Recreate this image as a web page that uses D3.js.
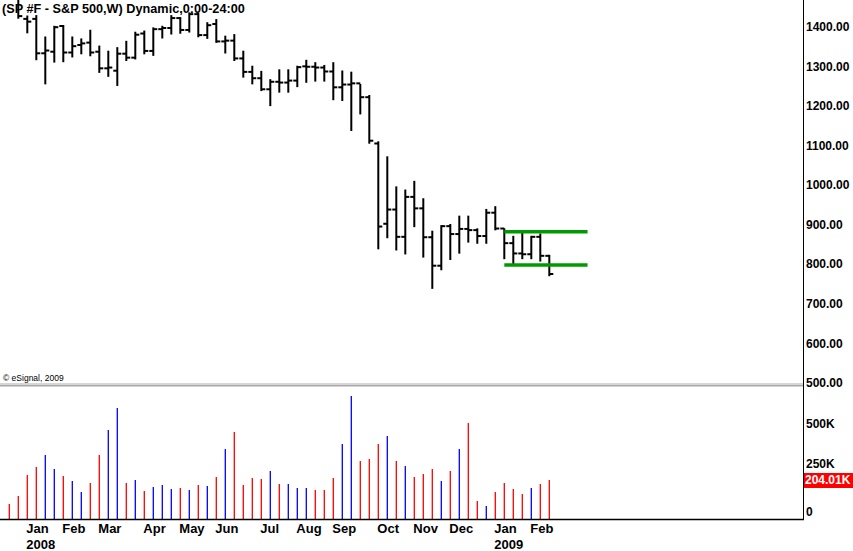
<!DOCTYPE html>
<html>
<head>
<meta charset="utf-8">
<script src="https://cdn.jsdelivr.net/npm/d3@7"></script>
<style>
  html, body { margin: 0; padding: 0; background: #fff; }
  svg { display: block; }
  text { font-family: "Liberation Sans", Arial, sans-serif; }
</style>
</head>
<body>
<div id="chart"></div>
<script>
// ---------------- DATA ----------------
const title = "(SP #F - S&P 500,W) Dynamic,0:00-24:00";
const copyright = "\u00A9 eSignal, 2009";

// weekly bars, week starting Dec 24 2007 ... Feb 16 2009
const weeks = ["2007-12-24","2007-12-31","2008-01-07","2008-01-14","2008-01-22","2008-01-28","2008-02-04","2008-02-11","2008-02-19","2008-02-25",
  "2008-03-03","2008-03-10","2008-03-17","2008-03-24","2008-03-31","2008-04-07","2008-04-14","2008-04-21","2008-04-28","2008-05-05",
  "2008-05-12","2008-05-19","2008-05-27","2008-06-02","2008-06-09","2008-06-16","2008-06-23","2008-06-30","2008-07-07","2008-07-14",
  "2008-07-21","2008-07-28","2008-08-04","2008-08-11","2008-08-18","2008-08-25","2008-09-01","2008-09-08","2008-09-15","2008-09-22",
  "2008-09-29","2008-10-06","2008-10-13","2008-10-20","2008-10-27","2008-11-03","2008-11-10","2008-11-17","2008-11-24","2008-12-01",
  "2008-12-08","2008-12-15","2008-12-22","2008-12-29","2009-01-05","2009-01-12","2009-01-20","2009-01-26","2009-02-02","2009-02-09","2009-02-16"];

const openP  = [1485,1480,1418,1418,1331,1335,1400,1333,1352,1358, 1335,1293,1287,1330,1320,1381,1337,1392,1395,1420,
                1390,1430,1377,1405,1361,1363,1318,1284,1268,1240, 1259,1257,1262,1298,1297,1295,1285,1245,1252,1255,
                1220,1103,900,936,867,968,939,866,794,894, 874,887,884,869,928,888,851,825,823,867,819];
const highP  = [1500,1490,1424,1425,1371,1398,1400,1371,1366,1388, 1348,1335,1344,1360,1383,1386,1394,1398,1425,1420,
                1432,1432,1407,1415,1373,1377,1335,1297,1284,1263, 1288,1288,1297,1312,1306,1299,1306,1285,1282,1251,
                1223,1106,1068,992,984,1006,962,880,894,897, 918,918,886,935,942,886,867,876,867,873,819];
const lowP   = [1476,1421,1384,1316,1255,1310,1311,1323,1331,1326, 1284,1274,1251,1314,1318,1331,1327,1371,1381,1383,
                1386,1374,1370,1360,1333,1314,1272,1255,1238,1200, 1234,1234,1248,1259,1262,1262,1215,1213,1137,1179,
                1105,838,866,835,825,894,817,738,785,811, 827,855,852,852,886,813,798,813,813,807,770];
const closeP = [1488,1425,1411,1331,1338,1397,1333,1349,1356,1333, 1293,1295,1330,1320,1378,1337,1392,1395,1420,1390,
                1430,1377,1402,1361,1363,1318,1284,1268,1240,1259, 1257,1262,1296,1297,1295,1285,1245,1252,1255,1220,
                1110,893,936,867,968,939,866,794,894,874, 887,884,869,928,888,851,825,823,867,819,773];

// weekly volume (contracts) and direction (1 = up week / blue, 0 = down week / red)
const volume = [78000,120000,230000,272000,335000,261000,225000,199000,141000,188000,
                335000,465000,581000,188000,204000,146000,167000,178000,157000,162000,
                152000,178000,172000,220000,366000,455000,178000,214000,209000,251000,
                183000,183000,162000,162000,152000,152000,214000,392000,643000,303000,
                314000,392000,434000,303000,277000,220000,235000,261000,199000,251000,
                366000,502000,94000,68000,141000,188000,157000,131000,162000,183000,204010];
const volUp  = [0,0,0,0,1,1,0,1,1,0, 0,1,1,0,1,0,1,1,1,0, 1,0,1,0,1,0,0,0,0,1,
                0,1,1,1,0,0,0,1,1,0, 0,0,1,0,1,0,0,0,1,0, 1,0,0,1,0,0,0,0,1,0,0];

// price axis ticks
const priceTicks = [500,600,700,800,900,1000,1100,1200,1300,1400];
// volume axis ticks
const volTicks = [0,250000,500000];
const volTickLabels = ["0","250K","500K"];
const lastVolLabel = "204.01K";

// month labels (bar index of first week of month)
const monthNames = ["Jan","Feb","Mar","Apr","May","Jun","Jul","Aug","Sep","Oct","Nov","Dec","Jan","Feb"];
const monthIdx   = [2,6,10,15,19,23,28,32,36,41,45,49,54,58];
const yearNames  = ["2008","2009"];
const yearIdx    = [2,54];

// horizontal range lines (price level, start bar, end bar)
const rangeLevels = [880, 796];
const rangeStart = 55;
const rangeEnd = 64.25;

// ---------------- LAYOUT ----------------
const W = 853, H = 551;
const axisX = 803;
const priceTop = 0, priceBottom = 383;
const volTop = 388, volBottom = 519;

const svg = d3.select("#chart").append("svg").attr("width", W).attr("height", H);

const x = d3.scaleLinear().domain([0, 60]).range([9.3, 549.3]);
const yP = d3.scaleLinear().domain([500, 1400]).range([382, 26]);
const yV = d3.scaleLinear().domain([0, 500000]).range([volBottom, 423.4]);

svg.append("defs").append("clipPath").attr("id", "pclip")
  .append("rect").attr("x", 0).attr("y", priceTop).attr("width", axisX).attr("height", priceBottom - priceTop);

const bars = weeks.map((w, i) => ({ i, w, o: openP[i], h: highP[i], l: lowP[i], c: closeP[i], v: volume[i], up: volUp[i] }));

// ---- price bars ----
const pg = svg.append("g").attr("clip-path", "url(#pclip)");
const bg = pg.selectAll("g.bar").data(bars).join("g").attr("class", "bar");
bg.append("line")
  .attr("x1", d => x(d.i)).attr("x2", d => x(d.i))
  .attr("y1", d => yP(d.h) - 1).attr("y2", d => yP(d.l) + 1)
  .attr("stroke", "#000").attr("stroke-width", 2);
bg.append("line")
  .attr("x1", d => x(d.i) - 4).attr("x2", d => x(d.i))
  .attr("y1", d => yP(d.o)).attr("y2", d => yP(d.o))
  .attr("stroke", "#000").attr("stroke-width", 2);
bg.append("line")
  .attr("x1", d => x(d.i)).attr("x2", d => x(d.i) + 4)
  .attr("y1", d => yP(d.c)).attr("y2", d => yP(d.c))
  .attr("stroke", "#000").attr("stroke-width", 2);

// ---- range lines ----
pg.selectAll("line.range").data(rangeLevels).join("line").attr("class", "range")
  .attr("x1", x(rangeStart)).attr("x2", x(rangeEnd))
  .attr("y1", d => yP(d)).attr("y2", d => yP(d))
  .attr("stroke", "#009a00").attr("stroke-width", 3.5);

// ---- title ----
svg.append("text").attr("x", 2).attr("y", 13)
  .attr("font-size", "12.7px").attr("font-weight", "bold").attr("fill", "#000")
  .text(title);

// ---- copyright ----
svg.append("text").attr("x", 3).attr("y", 381)
  .attr("font-size", "8.5px").attr("fill", "#000")
  .text(copyright);

// ---- panel divider ----
svg.append("rect").attr("x", 0).attr("y", 383).attr("width", axisX).attr("height", 4).attr("fill", "#d6d6d6");
svg.append("line").attr("x1", 0).attr("x2", axisX).attr("y1", 385.5).attr("y2", 385.5).attr("stroke", "#a8a8a8").attr("stroke-width", 1);

// ---- price axis ----
const pAxis = d3.axisRight(yP).tickValues(priceTicks).tickFormat(d3.format(".2f")).tickSize(0).tickPadding(3);
const pa = svg.append("g").attr("transform", `translate(${axisX},0)`).call(pAxis);
pa.select(".domain").remove();
pa.selectAll("text").attr("font-size", "12px").attr("font-weight", "bold").attr("fill", "#000")
  .attr("font-family", "Liberation Sans, Arial, sans-serif").attr("dy", "0.38em");

// ---- volume bars ----
svg.append("g").selectAll("line").data(bars).join("line")
  .attr("x1", d => x(d.i)).attr("x2", d => x(d.i))
  .attr("y1", d => yV(d.v)).attr("y2", volBottom)
  .attr("stroke", d => d.up ? "#0000ff" : "#ff0000").attr("stroke-width", 1.3);

// ---- volume axis ----
const vAxis = d3.axisRight(yV).tickValues(volTicks).tickFormat((d, k) => volTickLabels[k]).tickSize(0).tickPadding(3);
const va = svg.append("g").attr("transform", `translate(${axisX},0)`).call(vAxis);
va.select(".domain").remove();
va.selectAll("text").attr("font-size", "12px").attr("font-weight", "bold").attr("fill", "#000")
  .attr("font-family", "Liberation Sans, Arial, sans-serif")
  .attr("dy", d => d === 0 ? "-0.32em" : (d === 250000 ? "-0.3em" : "0.38em"));

// last volume marker
const lastY = yV(volume[volume.length - 1]);
svg.append("rect").attr("x", axisX).attr("y", lastY - 7).attr("width", W - axisX).attr("height", 15).attr("fill", "#ff0000");
svg.append("text").attr("x", axisX + 2).attr("y", lastY + 4.5)
  .attr("font-size", "12px").attr("font-weight", "bold").attr("fill", "#fff").text(lastVolLabel);

// ---- frame lines ----
svg.append("line").attr("x1", axisX + 0.5).attr("x2", axisX + 0.5).attr("y1", 0).attr("y2", volBottom + 1)
  .attr("stroke", "#000").attr("stroke-width", 1);
svg.append("line").attr("x1", 0).attr("x2", axisX + 1).attr("y1", volBottom + 0.5).attr("y2", volBottom + 0.5)
  .attr("stroke", "#000").attr("stroke-width", 1.5);

// ---- month / year labels ----
svg.append("g").selectAll("text").data(monthNames).join("text")
  .attr("x", (d, k) => x(monthIdx[k]) - 1).attr("y", 533)
  .attr("font-size", "13px").attr("font-weight", "bold").attr("fill", "#000")
  .text(d => d);
svg.append("g").selectAll("text").data(yearNames).join("text")
  .attr("x", (d, k) => x(yearIdx[k]) - 1).attr("y", 549)
  .attr("font-size", "13px").attr("font-weight", "bold").attr("fill", "#000")
  .text(d => d);
</script>
</body>
</html>
